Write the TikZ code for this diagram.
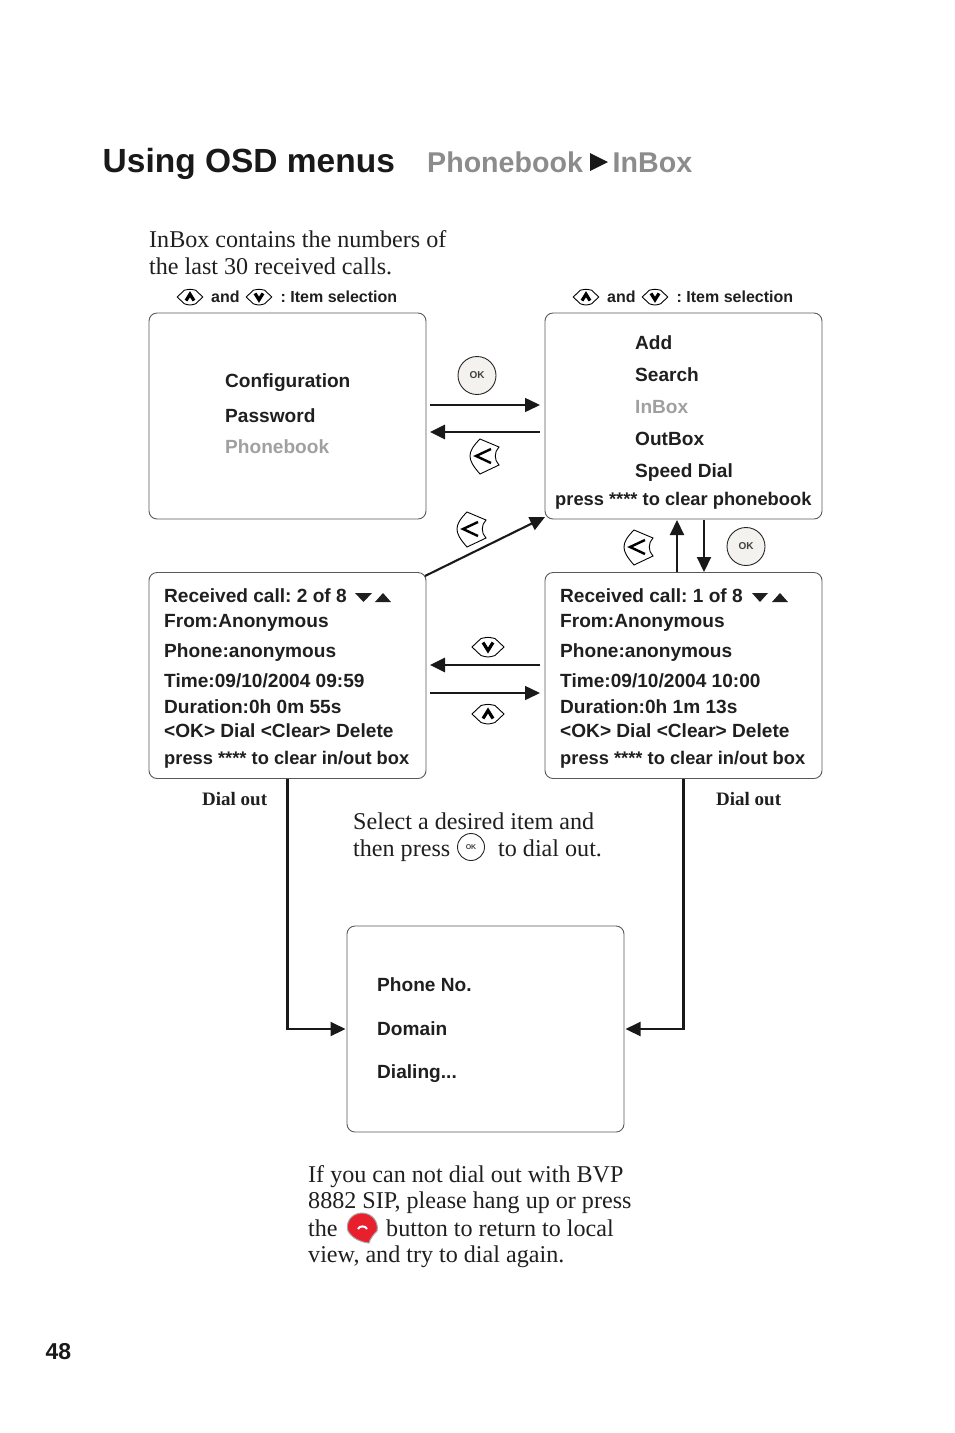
\documentclass[tikz,border=0pt]{standalone}
\usepackage{fontspec}
\setmainfont{Liberation Serif}
\setsansfont{Liberation Sans}
\usetikzlibrary{arrows.meta}
\definecolor{menugrey}{HTML}{A0A0A0}
\definecolor{titlegrey}{HTML}{8C8C8C}
\definecolor{okfill}{HTML}{F4F2EE}
\definecolor{hangred}{HTML}{E8202E}
\newcommand{\keyoutline}{\draw[line width=0.9pt,fill=white] (-16,0) -- (-7,-8.5) .. controls (0,-10) .. (7,-8.5) -- (16,0) -- (7,8.5) .. controls (0,10.5) .. (-7,8.5) -- cycle;}
\tikzset{
  upkey/.pic={\keyoutline \draw[line width=3.2pt] (-5,4.5) -- (0,-3.5) -- (5,4.5);},
  downkey/.pic={\keyoutline \draw[line width=3.2pt] (-5,-4.5) -- (0,3.5) -- (5,-4.5);},
  backkey/.pic={
    \draw[line width=0.9pt,fill=white] (-4,-17) -- (15,-9) .. controls (10,-4) and (10,4) .. (15,9) -- (-4,18) .. controls (-11,10) and (-14,5) .. (-14,0) .. controls (-14,-5) and (-11,-10) .. (-4,-17) -- cycle;
    \draw[line width=2.4pt] (7,-7) -- (-8,0) -- (7,7);}
}
\begin{document}
\frenchspacing
\begin{tikzpicture}[
  x=1pt, y=-1pt,
  menubox/.style={rectangle, draw=black!65, line width=0.9pt, rounded corners=8pt, minimum width=277pt, minimum height=206pt, inner sep=0pt, outer sep=0pt},
  item/.style={anchor=base west, inner sep=0pt, font=\sffamily\bfseries\fontsize{19.1}{19}\selectfont, text=black!88},
  tightitem/.style={item, font=\sffamily\bfseries\fontsize{18.3}{19}\selectfont},
  greyitem/.style={item, text=menugrey},
  hint/.style={anchor=base west, inner sep=0pt, font=\sffamily\bfseries\fontsize{16}{16}\selectfont, text=black!88},
  para/.style={anchor=base west, inner sep=0pt, font=\fontsize{24.1}{25}\selectfont, text=black!88},
  dialnote/.style={anchor=base west, inner sep=0pt, font=\bfseries\fontsize{19}{19}\selectfont, text=black!88},
  okbtn/.style={circle, draw=black!85, line width=0.9pt, fill=okfill, minimum size=38pt, inner sep=0pt, font=\sffamily\bfseries\fontsize{10}{10}\selectfont, text=black!75},
  tiny/.style={fill=black!88, draw=none},
  link/.style={-{Triangle[length=15pt,width=14pt]}, line width=1.5pt, black!90},
  heavy/.style={link, line width=2.8pt},
  medium/.style={link, line width=2.1pt},
]
\useasboundingbox (0,0) rectangle (954,1433);

% heading
\node[anchor=base west, inner sep=0pt, font=\sffamily\bfseries\fontsize{33.5}{34}\selectfont, text=black!90] (title) at (102.5,172.5) {Using OSD menus};
\node[anchor=base west, inner sep=0pt, font=\sffamily\bfseries\fontsize{28.6}{29}\selectfont, text=titlegrey] (crumbA) at (427,172) {Phonebook};
\node[anchor=base west, inner sep=0pt, font=\sffamily\bfseries\fontsize{28.6}{29}\selectfont, text=titlegrey] (crumbB) at (612.5,172) {InBox};
\fill[black!90] (590,153) -- (608,162) -- (590,171) -- cycle;

\node[para] (introA) at (149,247) {InBox contains the numbers of};
\node[para] (introB) at (149,274) {the last 30 received calls.};

% hints above the top boxes
\pic[scale=0.8] at (190,297) {upkey};
\node[hint] (andA) at (211,302) {and};
\pic[scale=0.8] at (259,297) {downkey};
\node[hint] (selA) at (280.5,302) {: Item selection};
\pic[scale=0.8] at (586,297) {upkey};
\node[hint] (andB) at (607,302) {and};
\pic[scale=0.8] at (655,297) {downkey};
\node[hint] (selB) at (676.5,302) {: Item selection};

% boxes
\node[menubox] (config) at (287.5,416) {};
\node[menubox] (book) at (683.5,416) {};
\node[menubox] (recvB) at (287.5,675.5) {};
\node[menubox] (recvA) at (683.5,675.5) {};
\node[menubox] (dial) at (485.5,1029) {};

\node[item] (cfgA) at (225,387) {Configuration};
\node[item] (cfgB) at (225,422) {Password};
\node[greyitem] (cfgC) at (225,453) {Phonebook};

\node[item] (bookA) at (635,349) {Add};
\node[item] (bookB) at (635,381) {Search};
\node[greyitem] (bookC) at (635,413) {InBox};
\node[item] (bookD) at (635,445) {OutBox};
\node[item] (bookE) at (635,477) {Speed Dial};
\node[tightitem] (bookF) at (555,505) {press **** to clear phonebook};

\node[item] (recvBa) at (164,602) {Received call: 2 of 8};
\node[item] (recvBb) at (164,627) {From:Anonymous};
\node[item] (recvBc) at (164,657) {Phone:anonymous};
\node[item] (recvBd) at (164,687) {Time:09/10/2004 09:59};
\node[item] (recvBe) at (164,713) {Duration:0h 0m 55s};
\node[item] (recvBf) at (164,737) {<OK> Dial <Clear> Delete};
\node[tightitem] (recvBg) at (164,764) {press **** to clear in/out box};
\fill[tiny] (355,593) -- (372,593) -- (363.5,602) -- cycle;
\fill[tiny] (375,602) -- (391,602) -- (383,593) -- cycle;

\node[item] (recvAa) at (560,602) {Received call: 1 of 8};
\node[item] (recvAb) at (560,627) {From:Anonymous};
\node[item] (recvAc) at (560,657) {Phone:anonymous};
\node[item] (recvAd) at (560,687) {Time:09/10/2004 10:00};
\node[item] (recvAe) at (560,713) {Duration:0h 1m 13s};
\node[item] (recvAf) at (560,737) {<OK> Dial <Clear> Delete};
\node[tightitem] (recvAg) at (560,764) {press **** to clear in/out box};
\fill[tiny] (752,593) -- (768,593) -- (760,602) -- cycle;
\fill[tiny] (772,602) -- (788,602) -- (780,593) -- cycle;

\node[item] (dialA) at (377,991) {Phone No.};
\node[item] (dialB) at (377,1035) {Domain};
\node[item] (dialC) at (377,1078) {Dialing...};

% buttons and keys between the boxes
\node[okbtn] (okTop) at (477,375.5) {OK};
\node[okbtn] (okRight) at (746,546.5) {OK};
\pic at (484,456) {backkey};
\pic at (471,529) {backkey};
\pic at (638,547) {backkey};
\pic at (488,647) {downkey};
\pic at (488,714) {upkey};

% connectors
\coordinate (fwdA) at (430,405);
\coordinate (fwdB) at (540,405);
\coordinate (retA) at (540,432);
\coordinate (retB) at (430,432);
\coordinate (prevA) at (540,665);
\coordinate (prevB) at (430,665);
\coordinate (nextA) at (430,693);
\coordinate (nextB) at (540,693);
\coordinate (upA) at (677,572);
\coordinate (upB) at (677,520);
\coordinate (downA) at (704,520);
\coordinate (downB) at (704,572);
\coordinate (diagA) at (425,576);
\coordinate (diagB) at (545,517);
\draw[link] (fwdA) -- (fwdB);
\draw[heavy] (retA) -- (retB);
\draw[heavy] (prevA) -- (prevB);
\draw[link] (nextA) -- (nextB);
\draw[medium] (upA) -- (upB);
\draw[medium] (downA) -- (downB);
\draw[medium] (diagA) -- (diagB);
\draw[medium, shorten >=1.5pt] (recvB.south) |- (dial.west);
\draw[medium, shorten >=1.5pt] (recvA.south) |- (dial.east);

\node[dialnote] (noteA) at (202,805) {Dial out};
\node[dialnote] (noteB) at (716,805) {Dial out};

\node[para] (selectA) at (353,829) {Select a desired item and};
\node[para] (selectB) at (353,856) {then press};
\node[okbtn, minimum size=27pt, fill=white, font=\sffamily\bfseries\fontsize{7}{7}\selectfont] (okNote) at (471,847) {OK};
\node[para] (selectC) at (498,856) {to dial out.};

\node[para] (failA) at (308,1182) {If you can not dial out with BVP};
\node[para] (failB) at (308,1208) {8882 SIP, please hang up or press};
\node[para] (failC) at (308,1236) {the};
\fill[hangred, draw=black!35, line width=1pt] (377,1231) .. controls (373,1235) and (370,1239) .. (369,1243) .. controls (360,1242) and (352,1238) .. (348,1231) .. controls (345,1222) and (352,1213) .. (362,1213) .. controls (372,1213) and (379,1222) .. (377,1231) -- cycle;
\draw[white, line width=2pt] (358,1229) .. controls (359,1225.5) and (366,1225.5) .. (367,1229);
\node[para] (failD) at (386,1236) {button to return to local};
\node[para] (failE) at (308,1262) {view, and try to dial again.};

\node[anchor=base west, inner sep=0pt, font=\sffamily\bfseries\fontsize{23}{23}\selectfont, text=black!90] (pageno) at (45.5,1359) {48};
\end{tikzpicture}
\end{document}
